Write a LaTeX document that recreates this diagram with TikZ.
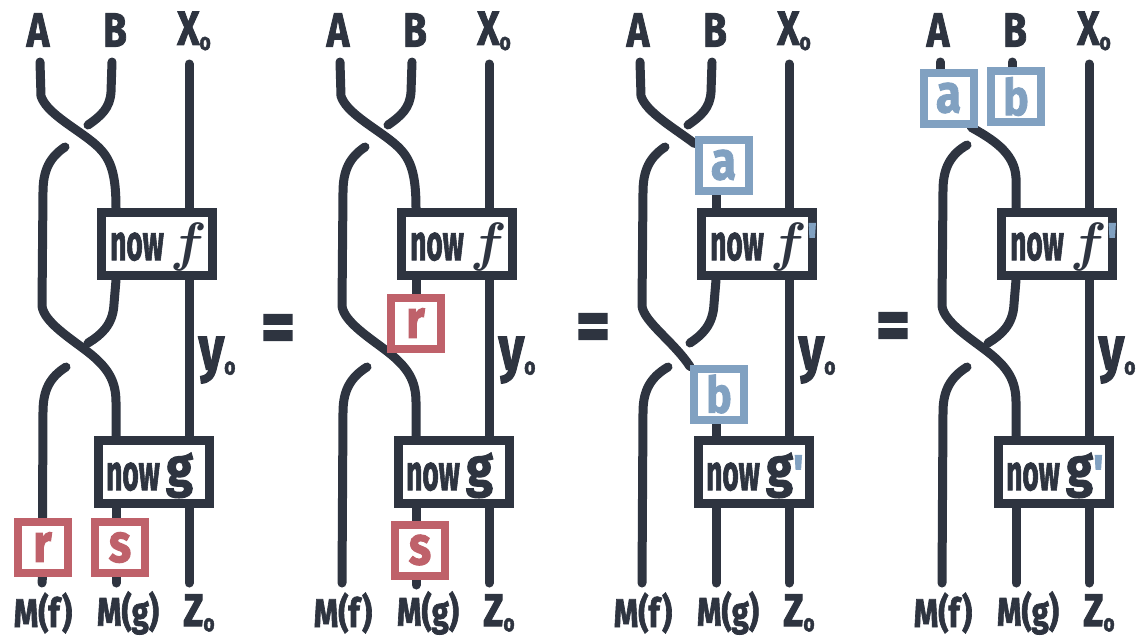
\documentclass[tikz,border=0pt]{standalone}
\usepackage{fontspec}
\usepackage{graphicx}
\usetikzlibrary{calc}
\newfontfamily\hand{Fira Sans}[BoldFeatures={FakeBold=2}]
\definecolor{ink}{HTML}{2E3440}
\definecolor{rosered}{HTML}{BF616A}
\definecolor{steelblue}{HTML}{81A1C1}
\pgfdeclarelayer{paper}
\pgfdeclarelayer{wires}
\pgfsetlayers{paper,wires,main}

% handwritten-looking text: horizontal squeeze, size, text
\newcommand\hw[3]{\scalebox{#1}[1]{\fontsize{#2}{#2}\selectfont\hand\bfseries #3}}
\newcommand\subo{\raisebox{-5pt}{\fontsize{24}{24}\selectfont\hand\bfseries o}}
\newcommand\fsym{\scalebox{5.4}{\boldmath$f$}}
\newcommand\gsym{\hw{0.9}{54}{g}}
\newcommand\primemark[1]{\raisebox{#1}{\textcolor{steelblue}{\hw{0.9}{50}{\textquotesingle}}}}
\newcommand\eqsign{\scalebox{1.1}[1.3]{\fontsize{60}{60}\selectfont\hand\bfseries =}}

\tikzset{
  wire/.style={draw=ink, line width=9pt, line cap=round, line join=round},
  morph/.style={draw=ink, line width=9pt, fill=white, minimum width=111pt,
                minimum height=63pt, inner sep=0pt},
  effect/.style={line width=8pt, fill=white, minimum width=50pt,
                 minimum height=51pt, inner sep=0pt},
  redbox/.style={effect, draw=rosered, text=rosered},
  bluebox/.style={effect, draw=steelblue, text=steelblue},
  lbl/.style={text=ink, inner sep=0pt},
}

% the parts every panel shares: labels, the two "now" boxes, the right wire
\newcommand\panelframe[3]{%
  \coordinate (#1a0) at (40,62);
  \coordinate (#1b0) at (112,62);
  \coordinate (#1x0) at (189,64);
  \coordinate (#1lend) at (42,583);
  \coordinate (#1mend) at (116,583);
  \coordinate (#1zend) at (189,583);
  \coordinate (#1mcol) at (116,0);
  \node[morph] (#1f) at (157,244) {};
  \node[morph] (#1g) at (154,472) {};
  \node[lbl, anchor=base] (#1fnow) at (137,260) {\hw{0.56}{50}{now}};
  \node[lbl, anchor=base west] (#1fsym) at (170,260) {#2};
  \node[lbl, anchor=base] (#1gnow) at (133,490) {\hw{0.56}{50}{now}};
  \node[lbl, anchor=base west] (#1gsym) at (166,486) {#3};
  \node[lbl] (#1tA) at (38,30) {\hw{0.8}{48}{A}};
  \node[lbl] (#1tB) at (115,30) {\hw{0.8}{48}{B}};
  \node[lbl] (#1tX) at (194,31) {\hw{0.8}{48}{X\subo}};
  \node[lbl] (#1bMf) at (43,613) {\hw{0.78}{40}{M(f)}};
  \node[lbl] (#1bMg) at (128,613) {\hw{0.78}{40}{M(g)}};
  \node[lbl] (#1bZ) at (199,613) {\hw{0.8}{46}{Z\subo}};
  \node[lbl] (#1y) at (217,360) {\hw{0.8}{62}{y\subo}};
  \begin{pgfonlayer}{wires}
    \draw[wire] (#1x0) -- (#1x0 |- #1f.north);
    \draw[wire] (#1x0 |- #1f.south) -- (#1x0 |- #1g.north);
    \draw[wire] (#1x0 |- #1g.south) -- (#1zend);
  \end{pgfonlayer}
}

\begin{document}
\begin{tikzpicture}[x=1pt, y=-1pt]
\begin{pgfonlayer}{paper}
  \fill[white] (0,0) rectangle (1137,640);
\end{pgfonlayer}
\useasboundingbox (0,0) rectangle (1137,640);

% ---------- first diagram ----------
\begin{scope}
  \panelframe{p1}{\fsym}{\gsym}
  \node[redbox] (p1r) at (42.5,547) {\hw{0.85}{54}{r}};
  \node[redbox] (p1s) at (120,547.5) {\hw{0.85}{54}{s}};
  \coordinate (p1gap1) at (88,125);
  \coordinate (p1gap2) at (65,147);
  \coordinate (p1gap3) at (88,343);
  \coordinate (p1gap4) at (66,367);
  \begin{pgfonlayer}{wires}
    \draw[wire] (p1a0) -- (41,96) .. controls (46,112) and (72,126) .. (90,140)
                .. controls (108,154) and (116,166) .. (p1mcol |- p1f.north);
    \draw[wire] (p1b0) -- (111,92) .. controls (110,108) and (101,116) .. (p1gap1);
    \draw[wire] (p1gap2) .. controls (50,157) and (43,170) .. (43,192) -- (42,306)
                .. controls (44,322) and (70,338) .. (88,352)
                .. controls (107,367) and (116,380) .. (116,402) -- (p1mcol |- p1g.north);
    \draw[wire] (p1mcol |- p1f.south) -- (114,304) .. controls (113,325) and (101,335) .. (p1gap3);
    \draw[wire] (p1gap4) .. controls (50,377) and (43,390) .. (43,412) -- (p1r.north);
    \draw[wire] (p1r.south) -- (p1lend);
    \draw[wire] (p1mcol |- p1g.south) -- (p1mcol |- p1s.north);
    \draw[wire] (p1mcol |- p1s.south) -- (p1mend);
  \end{pgfonlayer}
\end{scope}

\node[lbl] (eq1) at (278,334) {\eqsign};

% ---------- second diagram ----------
\begin{scope}[xshift=300pt]
  \panelframe{p2}{\fsym}{\gsym}
  \node[redbox] (p2r) at (115.5,323) {\hw{0.85}{54}{r}};
  \node[redbox] (p2s) at (120,550) {\hw{0.85}{54}{s}};
  \coordinate (p2gap1) at (88,125);
  \coordinate (p2gap2) at (65,147);
  \coordinate (p2gap4) at (67,367);
  \begin{pgfonlayer}{wires}
    \draw[wire] (p2a0) -- (41,96) .. controls (46,112) and (72,126) .. (90,140)
                .. controls (108,154) and (116,166) .. (p2mcol |- p2f.north);
    \draw[wire] (p2b0) -- (111,92) .. controls (110,108) and (101,116) .. (p2gap1);
    \draw[wire] (p2gap2) .. controls (50,157) and (43,170) .. (43,192) -- (42,306)
                .. controls (44,322) and (70,338) .. (88,352)
                .. controls (107,367) and (116,380) .. (116,402) -- (p2mcol |- p2g.north);
    \draw[wire] (p2mcol |- p2f.south) -- (p2mcol |- p2r.north);
    \draw[wire] (p2gap4) .. controls (51,377) and (43,390) .. (43,412) -- (p2lend);
    \draw[wire] (p2mcol |- p2g.south) -- (p2mcol |- p2s.north);
    \draw[wire] (p2mcol |- p2s.south) -- ([yshift=-2pt]p2mend);
  \end{pgfonlayer}
\end{scope}

\node[lbl] (eq2) at (593,333) {\eqsign};

% ---------- third diagram ----------
\begin{scope}[xshift=600pt]
  \panelframe{p3}{\fsym\primemark{2pt}}{\gsym\primemark{-4pt}}
  \node[bluebox] (p3abox) at (123.5,165) {\hw{0.85}{54}{a}};
  \node[bluebox] (p3bbox) at (119,394) {\hw{0.85}{50}{b}};
  \coordinate (p3gap1) at (88,125);
  \coordinate (p3gap2) at (65,147);
  \coordinate (p3gap3) at (90,343);
  \coordinate (p3gap4) at (68,367);
  \begin{pgfonlayer}{wires}
    \draw[wire] (p3a0) -- (41,96) .. controls (46,112) and (74,128) .. ([yshift=-8pt]p3abox.north west);
    \draw[wire] (p3mcol |- p3abox.south) -- (p3mcol |- p3f.north);
    \draw[wire] (p3b0) -- (111,92) .. controls (110,108) and (101,116) .. (p3gap1);
    \draw[wire] (p3gap2) .. controls (50,157) and (43,170) .. (43,192) -- (42,306)
                .. controls (44,322) and (74,342) .. ([yshift=-2pt]p3bbox.north west);
    \draw[wire] (p3mcol |- p3bbox.south) -- (p3mcol |- p3g.north);
    \draw[wire] (p3mcol |- p3f.south) -- (114,304) .. controls (113,325) and (102,335) .. (p3gap3);
    \draw[wire] (p3gap4) .. controls (51,377) and (43,390) .. (43,412) -- (p3lend);
    \draw[wire] (p3mcol |- p3g.south) -- (p3mend);
  \end{pgfonlayer}
\end{scope}

\node[lbl] (eq3) at (893,332) {\eqsign};

% ---------- fourth diagram ----------
\begin{scope}[xshift=900pt]
  \panelframe{p4}{\fsym\primemark{2pt}}{\gsym\primemark{-4pt}}
  \node[bluebox] (p4abox) at (48.5,98) {\hw{0.85}{54}{a}};
  \node[bluebox] (p4bbox) at (116,96.5) {\hw{0.85}{50}{b}};
  \coordinate (p4gap2) at (67,145);
  \coordinate (p4gap3) at (88,343);
  \coordinate (p4gap4) at (67,367);
  \begin{pgfonlayer}{wires}
    \draw[wire] (p4a0) -- (p4a0 |- p4abox.north);
    \draw[wire] (p4b0) -- (p4b0 |- p4bbox.north);
    \draw[wire] ([xshift=-6pt]p4abox.south east) .. controls (90,138) and (115,152) .. (116,178)
                -- (p4mcol |- p4f.north);
    \draw[wire] (p4gap2) .. controls (51,154) and (43,168) .. (43,190) -- (42,306)
                .. controls (44,322) and (70,338) .. (88,352)
                .. controls (107,367) and (116,380) .. (116,402) -- (p4mcol |- p4g.north);
    \draw[wire] (p4mcol |- p4f.south) -- (114,304) .. controls (113,325) and (101,335) .. (p4gap3);
    \draw[wire] (p4gap4) .. controls (51,377) and (43,390) .. (43,412) -- (p4lend);
    \draw[wire] (p4mcol |- p4g.south) -- (p4mend);
  \end{pgfonlayer}
\end{scope}
\end{tikzpicture}
\end{document}
